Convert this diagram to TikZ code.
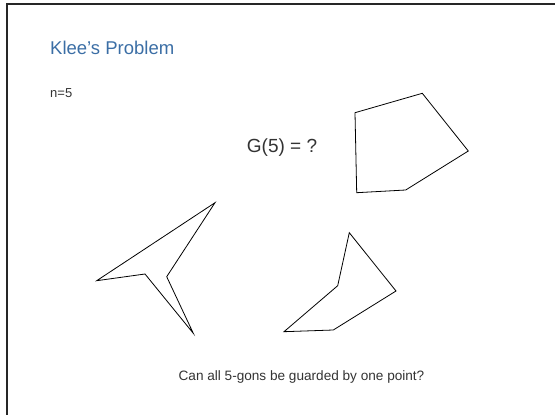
\documentclass[tikz,border=0pt]{standalone}
\usepackage{fontspec}
\setmainfont{Liberation Sans}
\usetikzlibrary{positioning}
\definecolor{titleblue}{HTML}{3B6EA5}

\begin{document}
\begin{tikzpicture}[x=1pt, y=-1pt,
    frame/.style={draw=black!85, line width=1.5pt},
    poly/.style={draw=black, line width=0.8pt, line join=miter},
    txt/.style={text=black!80, inner sep=0pt}
]
\useasboundingbox (0,0) rectangle (555,415);
\draw[frame] (555,4) -- (7,4) -- (7,415);

\node[txt, text=titleblue, anchor=base west, font=\fontsize{18.5}{22}\selectfont] (title) at (50,54) {Klee’s Problem};
\node[txt, anchor=base west, font=\fontsize{13}{15}\selectfont] (n) at (50,97) {n=5};
\node[txt, anchor=base, font=\fontsize{19}{22}\selectfont] (g) at (282,152) {G(5) = ?};
\node[txt, anchor=base, font=\fontsize{13.6}{16}\selectfont] (q) at (301.5,380) {Can all 5-gons be guarded by one point?};

% convex pentagon
\draw[poly] (355,112.7) -- (422.3,93.3) -- (468.3,151) -- (405.7,190) -- (356.7,192.7) -- cycle;
% arrow-shaped pentagon
\draw[poly] (215,202.7) -- (96.7,280.7) -- (145,274) -- (193.3,333.3) -- (166.7,276.7) -- cycle;
% pentagon with one reflex vertex
\draw[poly] (349.3,232.7) -- (396,291) -- (333.3,330) -- (284,331.7) -- (337.7,285.7) -- cycle;
\end{tikzpicture}
\end{document}
